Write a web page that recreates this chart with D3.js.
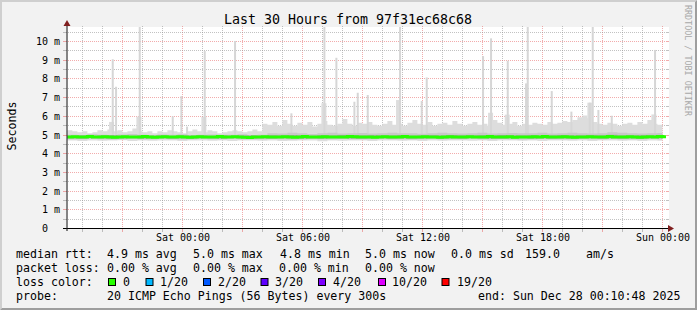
<!DOCTYPE html>
<html><head><meta charset="utf-8">
<script src="https://cdn.jsdelivr.net/npm/d3@7"></script>
<style>
html,body{margin:0;padding:0;background:#f2f2f2;}
svg{display:block;}
text{font-family:"DejaVu Sans Mono",monospace;}
</style></head><body>
<svg id="c" width="697" height="310"></svg>
<script>
// ---------------- DATA ----------------
const title = "Last 30 Hours from 97f31ec68c68";
const startTime = "2025-12-26T18:10:48Z";
const endTime = "2025-12-28T00:10:48Z";
const firstSample = "2025-12-26T18:15:00Z"; // 15-min samples
const yTickValues = [0,1,2,3,4,5,6,7,8,9,10];
const yTickLabels = ["0  ","1 m","2 m","3 m","4 m","5 m","6 m","7 m","8 m","9 m","10 m"];

// median rtt (ms), every 15 min
const median = [
4.90,4.91,4.89,4.90,4.92,4.90,4.89,4.91,4.90,4.88,
4.90,4.91,4.90,4.89,4.90,4.92,4.90,4.88,4.90,4.91,
4.89,4.90,4.91,4.90,4.88,4.90,4.91,4.90,4.89,4.90,
4.92,4.90,4.89,4.91,4.90,4.88,4.87,4.89,4.90,4.91,
4.90,4.89,4.90,4.91,4.90,4.88,4.90,4.92,4.90,4.89,
4.90,4.91,4.90,4.89,4.90,4.90,4.92,4.91,4.90,4.89,
4.90,4.88,4.90,4.91,4.90,4.89,4.90,4.92,4.90,4.89,
4.90,4.91,4.89,4.90,4.88,4.90,4.91,4.90,4.89,4.90,
4.91,4.90,4.89,4.90,4.92,4.90,4.89,4.90,4.91,4.88,
4.90,4.89,4.90,4.91,4.90,4.92,4.90,4.89,4.90,4.91,
4.90,4.88,4.89,4.90,4.91,4.90,4.89,4.90,4.92,4.90,
4.89,4.90,4.91,4.90,4.88,4.90,4.91,4.90,4.92,4.91];

// upper edge of the smoke (ms), every 15 min
const smokeHigh = [
5.25,5.20,5.15,5.20,5.10,5.15,5.25,5.20,5.30,5.20,
5.25,5.15,5.20,5.35,5.20,5.15,5.20,5.10,5.20,5.15,
5.25,5.20,5.15,5.10,5.20,5.30,5.20,5.15,5.25,5.20,
5.10,5.15,5.20,5.25,5.20,5.15,5.20,5.30,5.20,5.60,
5.55,5.70,5.50,5.80,5.60,5.50,5.65,5.55,5.70,5.45,
5.60,5.75,5.55,5.50,5.60,5.85,5.60,5.50,5.65,5.60,
5.70,5.55,5.50,5.60,5.75,5.55,5.60,5.50,5.65,5.80,
5.60,5.55,5.70,5.50,5.60,5.65,5.55,5.75,5.60,5.50,
5.60,5.70,5.55,5.60,5.50,5.80,5.65,5.55,5.60,5.70,
5.50,5.60,5.55,5.65,5.60,5.55,5.70,5.60,5.65,5.75,
5.70,5.80,5.95,6.05,5.90,5.70,5.60,5.55,5.65,5.60,
5.50,5.60,5.65,5.55,5.70,5.60,5.80,5.60,5.55,5.60];

// every 30 min
const smokeLow = [
4.70,4.68,4.71,4.69,4.70,4.72,4.68,4.70,4.69,4.71,
4.70,4.68,4.70,4.71,4.69,4.70,4.68,4.70,4.71,4.69,
4.70,4.68,4.69,4.71,4.70,4.67,4.70,4.69,4.71,4.70,
4.68,4.70,4.71,4.69,4.70,4.68,4.70,4.69,4.71,4.70,
4.69,4.70,4.68,4.71,4.70,4.69,4.70,4.68,4.70,4.71,
4.69,4.70,4.68,4.70,4.71,4.69,4.70,4.68,4.70,4.69];
const smokeMidHigh = [
5.02,5.00,5.04,5.02,5.00,5.03,5.05,5.02,5.00,5.03,
5.02,5.04,5.00,5.02,5.03,5.01,5.02,5.04,5.00,5.02,
5.10,5.08,5.12,5.10,5.06,5.10,5.12,5.08,5.10,5.11,
5.08,5.10,5.12,5.09,5.10,5.07,5.10,5.12,5.10,5.08,
5.10,5.12,5.08,5.10,5.11,5.09,5.10,5.12,5.08,5.10,
5.12,5.10,5.08,5.10,5.15,5.12,5.10,5.08,5.10,5.11];
const smokeMidLow = [
4.78,4.77,4.79,4.78,4.76,4.78,4.80,4.77,4.78,4.79,
4.78,4.76,4.78,4.79,4.77,4.78,4.80,4.78,4.77,4.78,
4.79,4.78,4.76,4.78,4.79,4.77,4.78,4.80,4.78,4.77,
4.78,4.79,4.77,4.78,4.76,4.78,4.79,4.78,4.77,4.78,
4.80,4.78,4.77,4.79,4.78,4.76,4.78,4.79,4.78,4.77,
4.78,4.79,4.77,4.78,4.80,4.78,4.77,4.78,4.79,4.78];
const innerHigh = [
4.96,4.98,4.95,4.97,4.99,4.96,4.95,4.98,4.96,4.97,
4.95,4.98,4.96,4.97,4.95,4.99,4.96,4.97,4.98,4.96,
4.99,4.97,5.00,4.98,4.96,4.99,4.98,5.00,4.97,4.98,
4.99,4.97,4.98,5.00,4.96,4.98,4.99,4.97,5.00,4.98,
4.97,4.99,4.98,5.00,4.97,4.98,4.99,4.96,4.98,5.00,
4.98,4.97,4.99,4.98,5.01,4.98,4.97,4.99,4.98,4.99];
const innerLow = [
4.83,4.82,4.84,4.83,4.81,4.83,4.84,4.82,4.83,4.84,
4.82,4.83,4.81,4.84,4.83,4.82,4.84,4.83,4.82,4.83,
4.82,4.84,4.83,4.81,4.83,4.82,4.84,4.83,4.82,4.81,
4.83,4.84,4.82,4.83,4.81,4.83,4.84,4.82,4.83,4.82,
4.84,4.83,4.82,4.81,4.83,4.84,4.82,4.83,4.81,4.83,
4.82,4.83,4.84,4.82,4.83,4.81,4.83,4.82,4.84,4.83];

// isolated outlier spikes (ms); 11 = beyond top of graph
const spikeTimes = ["2025-12-26T20:28Z","2025-12-26T20:38Z","2025-12-26T21:49Z","2025-12-26T23:28Z","2025-12-26T23:54Z","2025-12-27T00:11Z","2025-12-27T01:04Z","2025-12-27T02:35Z","2025-12-27T05:24Z","2025-12-27T07:03Z","2025-12-27T07:39Z","2025-12-27T08:33Z","2025-12-27T08:43Z","2025-12-27T09:13Z","2025-12-27T10:50Z","2025-12-27T11:55Z","2025-12-27T12:10Z","2025-12-27T14:59Z","2025-12-27T15:23Z","2025-12-27T16:13Z","2025-12-27T17:08Z","2025-12-27T17:13Z","2025-12-27T18:25Z","2025-12-27T19:24Z","2025-12-27T20:19Z","2025-12-27T20:28Z","2025-12-27T20:45Z","2025-12-27T21:25Z","2025-12-27T23:35Z"];
const spikeValues = [9.05,7.58,11,6.0,7.08,5.45,9.49,10.03,6.16,11,9.13,6.78,7.26,7.14,11,6.82,8.08,9.22,10.17,8.97,7.76,11,7.35,6.25,6.73,11,6.34,6.03,9.55];
const shoulderTimes = ["2025-12-26T20:20Z","2025-12-26T21:42Z","2025-12-27T00:57Z","2025-12-27T06:57Z","2025-12-27T10:41Z","2025-12-27T15:17Z","2025-12-27T16:07Z","2025-12-27T20:15Z","2025-12-27T23:27Z"];
const shoulderValues = [5.7,5.98,5.98,6.7,6.87,6.19,6.09,6.73,6.1];

const legendRows = [
  ["median rtt:", "4.9 ms avg", "5.0 ms max", "4.8 ms min", "5.0 ms now", "0.0 ms sd", "159.0", "am/s"],
  ["packet loss:", "0.00 % avg", "0.00 % max", "0.00 % min", "0.00 % now"],
];
const lossLabels = ["0","1/20","2/20","3/20","4/20","10/20","19/20"];
const lossColors = ["#26ff00","#00b8ff","#0059ff","#5e00ff","#7e00ff","#dd00ff","#ff0000"];
const probeText = "20 ICMP Echo Pings (56 Bytes) every 300s";
const endText = "end: Sun Dec 28 00:10:48 2025";

// ---------------- DRAW ----------------
const W = 697, H = 310;
const svg = d3.select("#c");
const L = 66, R = 666, T = 27, B = 228.5;
const t0 = new Date(startTime), t1 = new Date(endTime);
const x = d3.scaleUtc().domain([t0, t1]).range([L, R]);
const y = d3.scaleLinear().domain([0, 10.75]).range([B, 27.5]);

svg.append("rect").attr("width", W).attr("height", H).attr("fill", "#f2f2f2");
svg.append("path").attr("d", `M0,0H${W}L${W-2},2H2V${H-2}L0,${H}Z`).attr("fill", "#cfcfcf");
svg.append("path").attr("d", `M${W},0V${H}H0L2,${H-2}H${W-2}V2Z`).attr("fill", "#9e9e9e");

svg.append("rect").attr("x", L).attr("y", T).attr("width", R - L + 3).attr("height", 202).attr("fill", "#fff");

const gridCol = "rgba(143,143,143,0.55)", mgridCol = "rgba(230,90,90,0.5)";
const g = svg.append("g");
// vertical grid
d3.utcHour.every(1).range(t0, t1).forEach(t => {
  const major = t.getUTCHours() % 3 === 0;
  const xx = Math.floor(x(t)) + 0.5;
  const c = major ? mgridCol : gridCol;
  g.append("line").attr("x1", xx).attr("x2", xx).attr("y1", T - 1).attr("y2", 228)
    .attr("stroke", c).attr("stroke-dasharray", "1,1");
  g.append("line").attr("x1", xx).attr("x2", xx).attr("y1", 229).attr("y2", 232).attr("stroke", c);
});
// horizontal grid
d3.range(1, 22).map(k => k * 0.5).forEach(v => {
  const major = Number.isInteger(v);
  const yy = Math.floor(y(v)) + 0.5;
  const c = major ? mgridCol : gridCol;
  g.append("line").attr("x1", L).attr("x2", R).attr("y1", yy).attr("y2", yy)
    .attr("stroke", c).attr("stroke-dasharray", "1,1");
  g.append("line").attr("x1", 63).attr("x2", 66).attr("y1", yy).attr("y2", yy).attr("stroke", c);
  g.append("line").attr("x1", R).attr("x2", R + 3).attr("y1", yy).attr("y2", yy).attr("stroke", c);
});

// data
svg.append("clipPath").attr("id", "clip").append("rect").attr("x", L + 1).attr("y", T).attr("width", R - L - 1).attr("height", B - T);
const dg = svg.append("g").attr("clip-path", "url(#clip)");
const s0 = new Date(firstSample);
const T15 = median.map((_, i) => d3.utcMinute.offset(s0, 15 * i));
const idx = d3.range(median.length);

dg.append("path").datum(idx).attr("fill", "#dddddd")
  .attr("d", d3.area().curve(d3.curveStepAfter).x(i => x(T15[i])).y0(i => y(smokeLow[i >> 1])).y1(i => y(smokeHigh[i])));

const dur5 = 5 * 60 * 1000;
shoulderTimes.forEach((s, i) => {
  const tt = new Date(s);
  dg.append("rect").attr("x", x(tt)).attr("width", x(new Date(+tt + 3 * dur5)) - x(tt))
    .attr("y", y(shoulderValues[i])).attr("height", y(4.8) - y(shoulderValues[i])).attr("fill", "#dddddd");
});
spikeTimes.forEach((s, i) => {
  const tt = new Date(s);
  dg.append("rect").attr("x", x(tt)).attr("width", 2)
    .attr("y", y(spikeValues[i])).attr("height", y(4.8) - y(spikeValues[i])).attr("fill", "#d6d6d6");
});

dg.append("path").datum(idx).attr("fill", "#c8c8c8")
  .attr("d", d3.area().curve(d3.curveStepAfter).x(i => x(T15[i])).y0(i => y(smokeMidLow[i >> 1])).y1(i => y(smokeMidHigh[i >> 1])));
dg.append("path").datum(idx).attr("fill", "#a6a6a6")
  .attr("d", d3.area().curve(d3.curveStepAfter).x(i => x(T15[i])).y0(i => y(innerLow[i >> 1])).y1(i => y(innerHigh[i >> 1])));

const lastT = d3.utcMinute.offset(s0, 15 * median.length);
dg.append("path").datum(idx.concat([median.length]))
  .attr("fill", "none").attr("stroke", lossColors[0]).attr("stroke-width", 3)
  .attr("d", d3.line().curve(d3.curveStepAfter)
    .x(i => x(i < median.length ? T15[i] : lastT))
    .y(i => y(median[Math.min(i, median.length - 1)])));

// axes
svg.append("line").attr("x1", 63).attr("x2", 669).attr("y1", B).attr("y2", B).attr("stroke", "#000");
svg.append("path").attr("d", "M668,225L674,228.5L668,232Z").attr("fill", "#801f1f");
svg.append("line").attr("x1", 67).attr("x2", 67).attr("y1", 231).attr("y2", 24).attr("stroke", "#1f1f1f").attr("stroke-width", 1.1);
svg.append("path").attr("d", "M63.5,26L70.5,26L67,20Z").attr("fill", "#801f1f");

// y labels
yTickValues.forEach((v, i) => {
  svg.append("text").attr("x", 60).attr("y", Math.floor(y(v)) + 4.2).attr("text-anchor", "end")
    .attr("font-size", "10px").attr("fill", "#000").style("white-space", "pre").text(yTickLabels[i]);
});
// x labels
d3.utcHour.every(6).range(t0, t1).forEach(t => {
  svg.append("text").attr("x", Math.floor(x(t)) + 1).attr("y", 241).attr("text-anchor", "middle")
    .attr("font-size", "10px").text(d3.utcFormat("%a %H:%M")(t));
});

svg.append("text").attr("x", 348).attr("y", 24).attr("text-anchor", "middle").attr("font-size", "13.3px").text(title);
svg.append("text").attr("transform", "translate(15.5,126) rotate(-90)").attr("text-anchor", "middle").attr("font-size", "11.6px").text("Seconds");
svg.append("text").attr("transform", "translate(685,5) rotate(90)").attr("font-size", "8.4px").attr("fill", "#a8a8a8").text("RRDTOOL / TOBI OETIKER");

// legend
const fs = "11.6px";
const row1X = [16, 107, 193, 280, 365, 451, 525, 586];
legendRows[0].forEach((s, i) => svg.append("text").attr("x", row1X[i]).attr("y", 258).attr("font-size", fs).text(s));
const row2X = [16, 107, 193, 279, 365];
legendRows[1].forEach((s, i) => svg.append("text").attr("x", row2X[i]).attr("y", 272).attr("font-size", fs).text(s));
svg.append("text").attr("x", 16).attr("y", 286).attr("font-size", fs).text("loss color:");
const boxX = [108.5, 146, 203.5, 261, 318.5, 378.5, 442];
const labX = [123, 160, 218, 275, 333, 392, 457];
lossLabels.forEach((s, i) => {
  svg.append("rect").attr("x", boxX[i]).attr("y", 278.5).attr("width", 7).attr("height", 7)
    .attr("fill", lossColors[i]).attr("stroke", "#000").attr("stroke-width", 1);
  svg.append("text").attr("x", labX[i]).attr("y", 286).attr("font-size", fs).text(s);
});
svg.append("text").attr("x", 16).attr("y", 300).attr("font-size", fs).text("probe:");
svg.append("text").attr("x", 107).attr("y", 300).attr("font-size", fs).text(probeText);
svg.append("text").attr("x", 478).attr("y", 300).attr("font-size", fs).text(endText);
</script>
</body></html>
